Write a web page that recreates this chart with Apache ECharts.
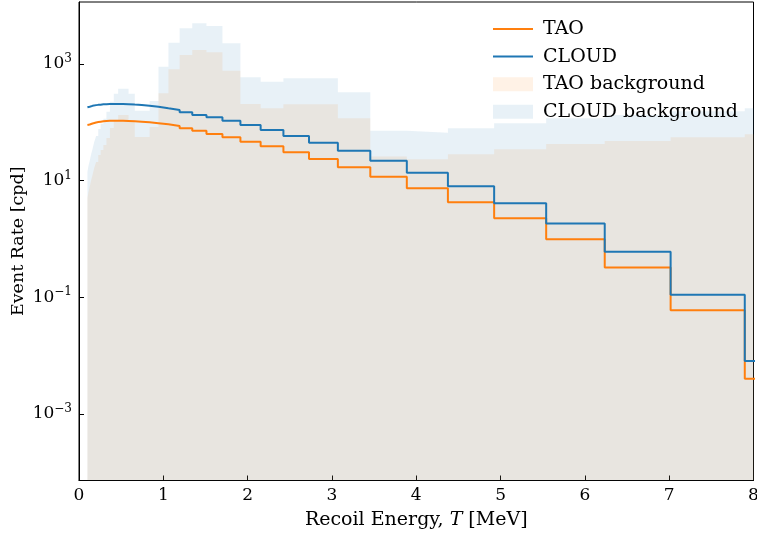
<!DOCTYPE html>
<html><head><meta charset="utf-8">
<script src="https://cdn.jsdelivr.net/npm/echarts@6/dist/echarts.min.js"></script>
<style>html,body{margin:0;padding:0;background:#fff}#c{width:757px;height:535px}</style>
</head><body><div id="c"></div>
<script>
// Bin edges of the recoil-energy histogram [MeV]
const binEdges = [0.1, 0.1125, 0.1266, 0.1425, 0.1604, 0.1805, 0.2031, 0.2285, 0.2572, 0.2894,
  0.3257, 0.3665, 0.4125, 0.4642, 0.5223, 0.5878, 0.6615, 0.7444, 0.8377, 0.9427,
  1.0608, 1.1937, 1.3434, 1.5118, 1.7013, 1.9145, 2.1544, 2.4245, 2.7283, 3.0703,
  3.4551, 3.8882, 4.3755, 4.9239, 5.5410, 6.2355, 7.0170, 7.8965, 8.8862];
// Event rates per bin [cpd]
const taoRate = [90, 91.5, 93.4, 95.3, 97.2, 99.2, 100.8, 102.4, 104, 105.2,
  106, 106.7, 106.7, 106.3, 105.5, 104.3, 102.6, 100.3, 96.6, 92.5,
  86.5, 79.1, 71.8, 63.1, 55.3, 46.5, 38.8, 30.6, 23.5, 16.9,
  11.7, 7.39, 4.27, 2.26, 0.99, 0.322, 0.0598, 0.0040];
const cloudRate = [181, 185, 188.5, 191.5, 194.5, 197, 199, 200.5, 203, 204.5,
  206, 206, 206, 206, 204.5, 201, 197.5, 192, 185, 174,
  163, 148.6, 133.6, 122, 106.7, 90, 73.9, 58.3, 44.8, 32.6,
  22.0, 13.7, 8.0, 4.09, 1.84, 0.605, 0.110, 0.0081];
const taoBackground = [5.05, 6.4, 7.8, 9.9, 12.5, 16.5, 20.9, 27.5, 33.6, 40.9,
  53.9, 80, 110, 134, 134, 110, 56, 56, 83, 315,
  811, 1426, 1738, 1589, 768, 206, 174, 204, 204, 117,
  25.8, 23.2, 28.3, 34.5, 42.5, 47.9, 55.3, 62.4];
const cloudBackground = [14.1, 17.9, 21.8, 27.7, 35, 46, 58.5, 77, 94, 114.5,
  151, 224, 308, 375, 375, 308, 157, 157, 232, 899,
  2317, 4093, 4989, 4477, 2265, 592, 497, 569, 569, 327,
  71.9, 66.5, 79, 96.2, 117, 134, 155, 174];
const yTickValues = [1e-3, 1e-1, 1e1, 1e3];
const seriesNames = ['TAO', 'CLOUD', 'TAO background', 'CLOUD background'];

function stairs(vals) {
  const d = vals.map((v, i) => [binEdges[i], v]);
  d.push([binEdges[vals.length], vals[vals.length - 1]]);
  return d;
}

const FONT = 'DejaVu Serif';
const ORANGE = '#ff7f0e', BLUE = '#1f77b4';
const ORANGE_BG = 'rgba(255,127,14,0.1)', BLUE_BG = 'rgba(31,119,180,0.1)';

const chart = echarts.init(document.getElementById('c'), null, {renderer: 'canvas'});
chart.setOption({
  animation: false,
  backgroundColor: '#fff',
  grid: {left: 79, right: 3.5, top: 2, bottom: 54.5, containLabel: false, outerBoundsMode: 'none',
    show: true, borderColor: '#000', borderWidth: 1, backgroundColor: 'transparent'},
  legend: {
    orient: 'vertical', left: 487, top: 14, itemWidth: 40, itemHeight: 14, itemGap: 7.6,
    textStyle: {fontFamily: FONT, fontSize: 19, color: '#000', lineHeight: 20, padding: [0, 0, 0, 5]},
    data: [
      {name: seriesNames[0], itemStyle: {opacity: 0}},
      {name: seriesNames[1], itemStyle: {opacity: 0}},
      {name: seriesNames[2], icon: 'rect', itemStyle: {color: ORANGE_BG}},
      {name: seriesNames[3], icon: 'rect', itemStyle: {color: BLUE_BG}}
    ]
  },
  xAxis: {
    type: 'value', min: 0, max: 8, interval: 1,
    axisLine: {lineStyle: {color: '#000', width: 1}},
    axisTick: {inside: true, length: 5, lineStyle: {color: '#000', width: 1}},
    axisLabel: {color: '#000', fontFamily: FONT, fontSize: 17, margin: 7},
    splitLine: {show: false},
    name: '{n|Recoil Energy, }{i|T}{n| [MeV]}',
    nameLocation: 'middle', nameGap: 30, nameMoveOverlap: false,
    nameTextStyle: {rich: {
      n: {fontFamily: FONT, fontSize: 19, color: '#000'},
      i: {fontFamily: FONT, fontSize: 19, color: '#000', fontStyle: 'italic'}
    }}
  },
  yAxis: {
    type: 'log', logBase: 10, min: 7.2e-5, max: 11560,
    axisLine: {lineStyle: {color: '#000', width: 1}},
    axisTick: {inside: true, length: 5, lineStyle: {color: '#000', width: 1}, customValues: yTickValues},
    minorTick: {show: false},
    splitLine: {show: false},
    axisLabel: {
      customValues: yTickValues, margin: 7,
      formatter: function (v) {
        const e = Math.round(Math.log10(v));
        return '{b|10}{s|' + (e < 0 ? '\u2212' + (-e) : e) + '}';
      },
      rich: {
        b: {fontFamily: FONT, fontSize: 17, color: '#000', lineHeight: 22},
        s: {fontFamily: FONT, fontSize: 12, color: '#000', verticalAlign: 'top', lineHeight: 22}
      }
    },
    name: 'Event Rate [cpd]', nameLocation: 'middle', nameGap: 52, nameMoveOverlap: false,
    nameTextStyle: {fontFamily: FONT, fontSize: 17.5, color: '#000'}
  },
  series: [
    {name: seriesNames[2], type: 'line', step: 'end', data: stairs(taoBackground), symbol: 'none',
      color: ORANGE_BG, lineStyle: {width: 0}, areaStyle: {color: ORANGE_BG, origin: 'start', opacity: 1}, z: 1, silent: true},
    {name: seriesNames[3], type: 'line', step: 'end', data: stairs(cloudBackground), symbol: 'none',
      color: BLUE_BG, lineStyle: {width: 0}, areaStyle: {color: BLUE_BG, origin: 'start', opacity: 1}, z: 1, silent: true},
    {name: seriesNames[0], type: 'line', step: 'end', data: stairs(taoRate), symbol: 'none',
      color: ORANGE, lineStyle: {width: 2, color: ORANGE}, z: 3},
    {name: seriesNames[1], type: 'line', step: 'end', data: stairs(cloudRate), symbol: 'none',
      color: BLUE, lineStyle: {width: 2, color: BLUE}, z: 4}
  ]
});
</script></body></html>
